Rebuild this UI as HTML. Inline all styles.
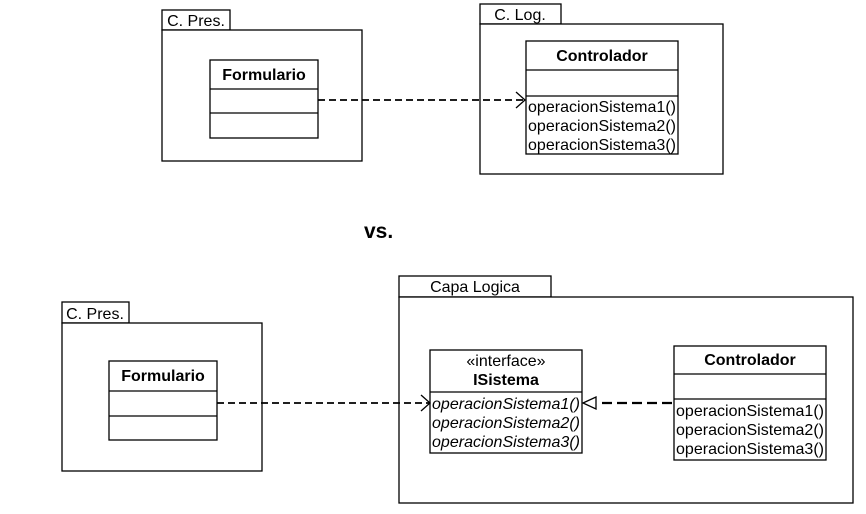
<!DOCTYPE html>
<html><head><style>body{margin:0;background:#fff}</style></head><body>
<svg width="866" height="509" xmlns="http://www.w3.org/2000/svg" font-family="Liberation Sans, Arial, sans-serif" font-size="16" fill="none" stroke="#000" stroke-width="1.3">
<!-- top left package -->
<rect x="162" y="10" width="68" height="20" fill="#fff"/>
<rect x="162" y="30" width="200" height="131" fill="#fff"/>
<text x="196" y="26" text-anchor="middle" fill="#000" stroke="none">C. Pres.</text>
<rect x="210" y="60" width="108" height="78" fill="#fff"/>
<line x1="210" y1="89" x2="318" y2="89"/><line x1="210" y1="113" x2="318" y2="113"/>
<text x="264" y="80" text-anchor="middle" font-weight="bold" fill="#000" stroke="none">Formulario</text>
<!-- top right package -->
<rect x="480" y="4" width="81" height="20" fill="#fff"/>
<rect x="480" y="24" width="243" height="150" fill="#fff"/>
<text x="520" y="20" text-anchor="middle" fill="#000" stroke="none">C. Log.</text>
<rect x="526" y="41" width="152" height="113" fill="#fff"/>
<line x1="526" y1="70" x2="678" y2="70"/><line x1="526" y1="96" x2="678" y2="96"/>
<text x="602" y="61" text-anchor="middle" font-weight="bold" fill="#000" stroke="none">Controlador</text>
<g fill="#000" stroke="none"><text x="528" y="112" textLength="148">operacionSistema1()</text><text x="528" y="131" textLength="148">operacionSistema2()</text><text x="528" y="150" textLength="148">operacionSistema3()</text></g>
<line x1="318" y1="100" x2="524" y2="100" stroke-dasharray="7,4" stroke-width="1.8"/>
<polyline points="516,92 525,100 516,108"/>
<text x="364" y="238" font-size="21" font-weight="bold" fill="#000" stroke="none">vs.</text>
<!-- bottom left -->
<rect x="62" y="302" width="67" height="21" fill="#fff"/>
<rect x="62" y="323" width="200" height="148" fill="#fff"/>
<text x="95" y="319" text-anchor="middle" fill="#000" stroke="none">C. Pres.</text>
<rect x="109" y="361" width="108" height="79" fill="#fff"/>
<line x1="109" y1="391" x2="217" y2="391"/><line x1="109" y1="416" x2="217" y2="416"/>
<text x="163" y="381" text-anchor="middle" font-weight="bold" fill="#000" stroke="none">Formulario</text>
<!-- Capa Logica -->
<rect x="399" y="276" width="152" height="21" fill="#fff"/>
<rect x="399" y="297" width="454" height="206" fill="#fff"/>
<text x="475" y="292" text-anchor="middle" fill="#000" stroke="none">Capa Logica</text>
<rect x="430" y="350" width="152" height="103" fill="#fff"/>
<line x1="430" y1="392" x2="582" y2="392"/>
<text x="506" y="366" text-anchor="middle" fill="#000" stroke="none">«interface»</text>
<text x="506" y="385" text-anchor="middle" font-weight="bold" fill="#000" stroke="none">ISistema</text>
<g fill="#000" stroke="none" font-style="italic"><text x="432" y="409" textLength="148">operacionSistema1()</text><text x="432" y="428" textLength="148">operacionSistema2()</text><text x="432" y="447" textLength="148">operacionSistema3()</text></g>
<rect x="674" y="346" width="152" height="114" fill="#fff"/>
<line x1="674" y1="374" x2="826" y2="374"/><line x1="674" y1="399" x2="826" y2="399"/>
<text x="750" y="365" text-anchor="middle" font-weight="bold" fill="#000" stroke="none">Controlador</text>
<g fill="#000" stroke="none"><text x="676" y="416" textLength="148">operacionSistema1()</text><text x="676" y="435" textLength="148">operacionSistema2()</text><text x="676" y="454" textLength="148">operacionSistema3()</text></g>
<line x1="217" y1="403" x2="429" y2="403" stroke-dasharray="7,4" stroke-width="1.8"/>
<polyline points="421,395 430,403 421,411"/>
<line x1="602" y1="403" x2="674" y2="403" stroke-dasharray="10,5" stroke-width="2.2"/>
<polygon points="583,403 596,397 596,409" fill="#fff"/>
</svg>
</body></html>
